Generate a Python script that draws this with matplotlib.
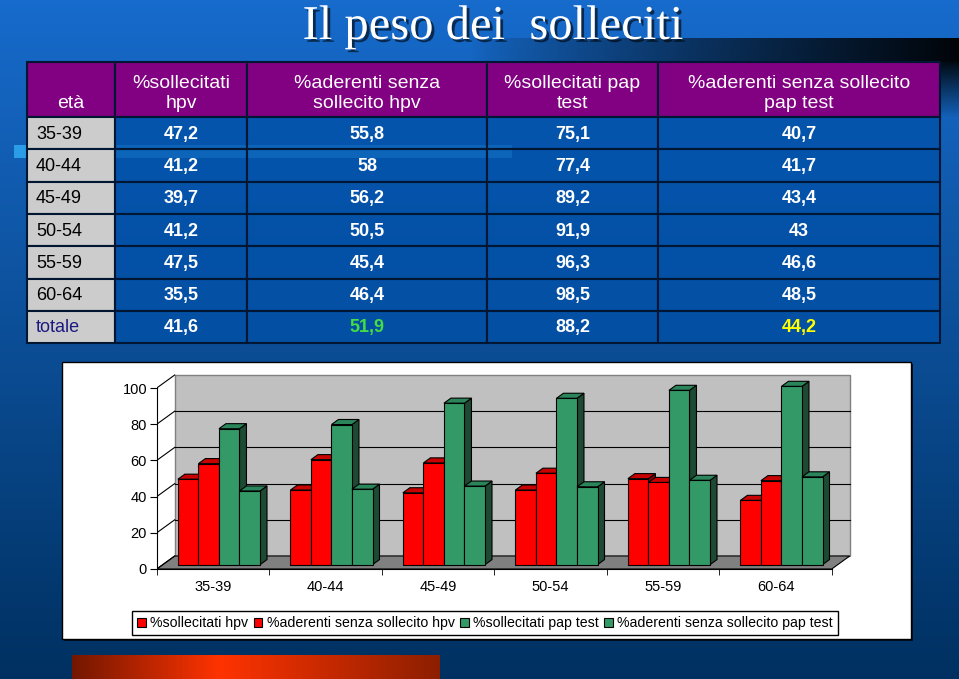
import numpy as np
import matplotlib.pyplot as plt
from matplotlib.patches import Rectangle, Polygon, Patch
import matplotlib.patheffects as pe

plt.rcParams['font.family'] = ['Liberation Sans', 'DejaVu Sans']

# data
ages = ['35-39', '40-44', '45-49', '50-54', '55-59', '60-64']
soll_hpv = [47.2, 41.2, 39.7, 41.2, 47.5, 35.5]
ader_hpv = [55.8, 58, 56.2, 50.5, 45.4, 46.4]
soll_pap = [75.1, 77.4, 89.2, 91.9, 96.3, 98.5]
ader_pap = [40.7, 41.7, 43.4, 43, 46.6, 48.5]
totale = [41.6, 51.9, 88.2, 44.2]
headers = ['età', '%sollecitati\nhpv', '%aderenti senza\nsollecito hpv',
           '%sollecitati pap\ntest', '%aderenti senza sollecito\npap test']
series_names = ['%sollecitati hpv', '%aderenti senza sollecito hpv',
                '%sollecitati pap test', '%aderenti senza sollecito pap test']
series = [soll_hpv, ader_hpv, soll_pap, ader_pap]

W, H = 959, 679
fig = plt.figure(figsize=(W / 100, H / 100), dpi=100)
bg = fig.add_axes([0, 0, 1, 1])
bg.set_xlim(0, W)
bg.set_ylim(H, 0)
bg.axis('off')

# background gradient
t = np.linspace(0, 1, 300)[:, None] * np.ones((1, 300))
top_c = np.array([0.09, 0.42, 0.80])
bot_c = np.array([0.0, 0.19, 0.38])
grad = top_c * (1 - t[..., None]) + bot_c * t[..., None]
bg.imshow(grad, extent=(0, W, H, 0), aspect='auto', zorder=0)

# dark band top right
band = np.zeros((10, 200, 4))
band[..., 3] = np.linspace(0, 0.95, 200)[None, :] ** 0.8
bg.imshow(band, extent=(470, W, 62, 38), aspect='auto', zorder=1)
band2 = np.zeros((60, 10, 4))
band2[..., 3] = np.linspace(0.9, 0.0, 60)[:, None]
bg.imshow(band2, extent=(940, W, 118, 62), aspect='auto', zorder=1)

# light stripe
bg.add_patch(Rectangle((14, 145), 498, 13, fc='#2b9ce8', ec='none', zorder=1))

# red bar at bottom
xs = np.linspace(0, 1, 300)
stops = [0, 0.4, 1]
r = np.interp(xs, stops, [0.45, 1.0, 0.55])
g = np.interp(xs, stops, [0.09, 0.2, 0.12])
b = np.interp(xs, stops, [0.0, 0.0, 0.0])
redbar = np.stack([r, g, b], axis=-1)[None, :, :]
bg.imshow(redbar, extent=(72, 440, H, 655), aspect='auto', zorder=1)

# title
title = bg.text(493, 39, 'Il peso dei  solleciti', fontfamily='Liberation Serif',
                fontsize=35, color='white', ha='center', va='baseline', zorder=5)
title.set_path_effects([pe.withSimplePatchShadow(offset=(2, -2), shadow_rgbFace='black', alpha=0.6)])

# table
col_x = [27, 115, 247, 487, 658, 940]
row_y = [62, 117] + [117 + 32.3 * (k + 1) for k in range(7)]
line_c = '#001633'


def fmt(v):
    return f'{v:g}'.replace('.', ',')


for j in range(5):
    x0, x1 = col_x[j], col_x[j + 1]
    bg.add_patch(Rectangle((x0, row_y[0]), x1 - x0, row_y[1] - row_y[0],
                           fc='#820082', ec=line_c, lw=1.5, zorder=3))
    bg.text((x0 + x1) / 2, row_y[1] - 5, headers[j], color='white', fontsize=14,
            ha='center', va='bottom', linespacing=1.2, zorder=4)

rows = [[a, soll_hpv[i], ader_hpv[i], soll_pap[i], ader_pap[i]] for i, a in enumerate(ages)]
rows.append(['totale'] + totale)
tot_colors = ['white', '#44dd44', 'white', '#ffff00']
for i, row in enumerate(rows):
    y0, y1 = row_y[i + 1], row_y[i + 2]
    ym = (y0 + y1) / 2
    for j in range(5):
        x0, x1 = col_x[j], col_x[j + 1]
        if j == 0:
            bg.add_patch(Rectangle((x0, y0), x1 - x0, y1 - y0, fc='#cccccc',
                                   ec=line_c, lw=1.5, zorder=3))
            bg.text(x0 + 9, ym + 1, row[0], fontsize=13, ha='left', va='center',
                    color='#1a1a80' if row[0] == 'totale' else 'black', zorder=4)
        else:
            bg.add_patch(Rectangle((x0, y0), x1 - x0, y1 - y0, fc='#0050a8', alpha=0.72,
                                   ec='none', zorder=3))
            bg.add_patch(Rectangle((x0, y0), x1 - x0, y1 - y0, fc='none',
                                   ec=line_c, lw=1.5, zorder=3))
            c = tot_colors[j - 1] if row[0] == 'totale' else 'white'
            bg.text((x0 + x1) / 2, ym + 1, fmt(row[j]), fontsize=13, fontweight='bold',
                    ha='center', va='center', color=c, zorder=4)

# chart panel
bg.add_patch(Rectangle((64, 364), 849, 277, fc='#001020', ec='none', zorder=2))
bg.add_patch(Rectangle((62, 362), 849, 277, fc='white', ec='black', lw=1, zorder=2))

# 3d bar chart
px0, px_per_cat, py0, px_per_val = 213, 112.5, 569, 1.81
xl, xr = -0.5, 5.68
ytop = 108
ax = fig.add_axes([(px0 + px_per_cat * xl) / W, (H - py0) / H,
                   px_per_cat * (xr - xl) / W, px_per_val * ytop / H])
ax.set_xlim(xl, xr)
ax.set_ylim(0, ytop)
ax.patch.set_alpha(0)

dx, dy = 0.16, 7.2          # wall depth
bdx, bdy = 0.053, 2.4       # bar position in depth
ddx, ddy = 0.062, 2.8       # bar thickness
nc = len(ages)

ax.add_patch(Polygon([(-0.5 + dx, dy), (nc - 0.5 + dx, dy), (nc - 0.5 + dx, 100 + dy),
                      (-0.5 + dx, 100 + dy)], fc='#c0c0c0', ec='#808080', lw=1, zorder=1))
ax.add_patch(Polygon([(-0.5, 0), (nc - 0.5, 0), (nc - 0.5 + dx, dy), (-0.5 + dx, dy)],
                     fc='#808080', ec='black', lw=0.8, zorder=1))
for v in range(0, 101, 20):
    if 0 < v < 100:
        ax.plot([-0.5 + dx, nc - 0.5 + dx], [v + dy, v + dy], color='black', lw=0.8, zorder=2)
    ax.plot([-0.5, -0.5 + dx], [v, v + dy], color='black', lw=0.8, zorder=2)

fronts = ['#ff0000', '#ff0000', '#339966', '#339966']
tops = ['#c80000', '#c80000', '#2b855a', '#2b855a']
sides = ['#8a0000', '#8a0000', '#1d4a33', '#1d4a33']
w = 0.1825
for i in range(nc):
    for j, s in enumerate(series):
        h = s[i]
        x0 = i - 2 * w + j * w + bdx
        y0 = bdy
        ax.add_patch(Polygon([(x0 + w, y0), (x0 + w + ddx, y0 + ddy), (x0 + w + ddx, y0 + h + ddy),
                              (x0 + w, y0 + h)], fc=sides[j], ec='black', lw=0.8, zorder=3))
        ax.add_patch(Polygon([(x0, y0 + h), (x0 + w, y0 + h), (x0 + w + ddx, y0 + h + ddy),
                              (x0 + ddx, y0 + h + ddy)], fc=tops[j], ec='black', lw=0.8, zorder=3))
        ax.add_patch(Rectangle((x0, y0), w, h, fc=fronts[j], ec='black', lw=0.8, zorder=3))

for sp in ['top', 'right']:
    ax.spines[sp].set_visible(False)
ax.spines['left'].set_bounds(0, 100)
ax.spines['bottom'].set_bounds(-0.5, nc - 0.5)
ax.set_yticks(range(0, 101, 20))
ax.set_xticks(range(nc))
ax.set_xticklabels(ages)
ax.set_xticks(np.arange(-0.5, nc, 1), minor=True)
ax.tick_params(axis='y', direction='out', length=5, labelsize=10.5, pad=2)
ax.tick_params(axis='x', which='major', length=0, labelsize=10.5, pad=8)
ax.tick_params(axis='x', which='minor', direction='out', length=4)

handles = [Patch(fc=fronts[j], ec='black', lw=0.8) for j in range(4)]
leg = fig.legend(handles, series_names, loc='center', bbox_to_anchor=(485 / W, 1 - 623 / H),
                 ncol=4, fontsize=10.2, frameon=True, fancybox=False, edgecolor='black',
                 framealpha=1, borderpad=0.35, handlelength=0.6, handleheight=0.6,
                 handletextpad=0.3, columnspacing=0.4)
leg.get_frame().set_linewidth(1)

fig.savefig('out.png', dpi=100)
